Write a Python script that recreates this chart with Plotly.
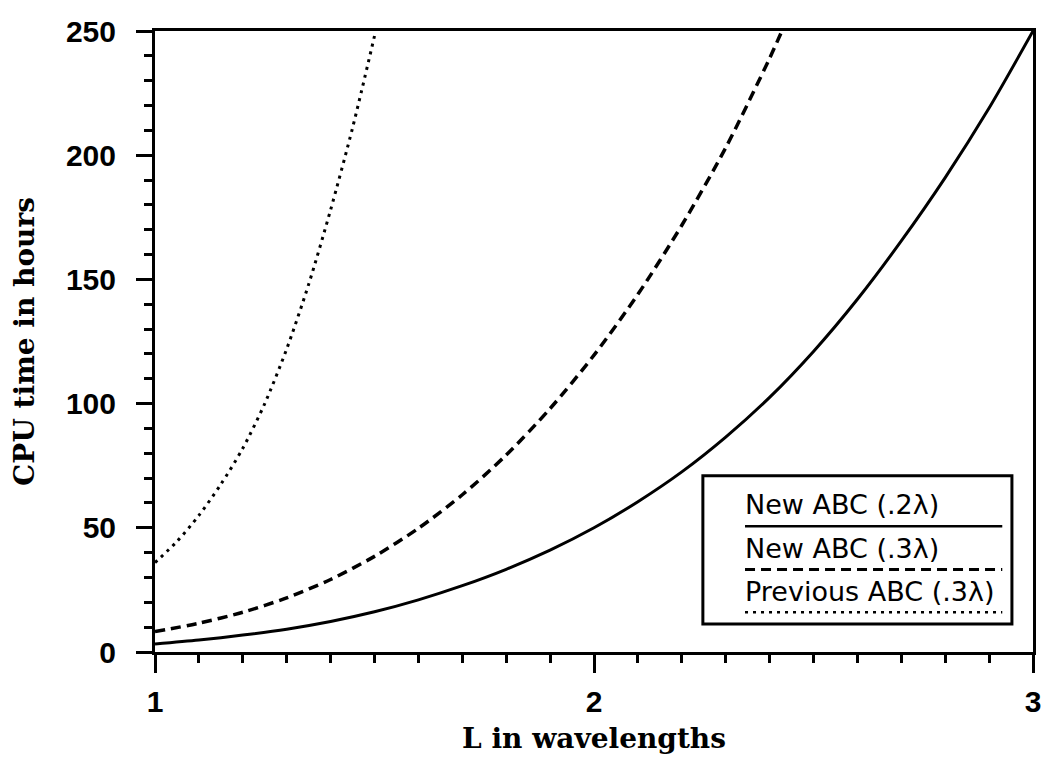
import plotly.graph_objects as go

# ---- data ----
L_new_02 = [1.0, 1.1, 1.2, 1.3, 1.4, 1.5, 1.6, 1.7, 1.8, 1.9, 2.0,
            2.1, 2.2, 2.3, 2.4, 2.5, 2.6, 2.7, 2.8, 2.9, 3.0]
cpu_new_02 = [3.2, 4.8, 6.8, 9.2, 12.3, 16.2, 21.0, 26.7, 33.3, 41.0, 50.0,
              60.5, 72.5, 86.5, 102.5, 121.0, 142.0, 165.5, 191.0, 219.0, 250.0]

L_new_03 = [1.0, 1.1, 1.2, 1.3, 1.4, 1.5, 1.6, 1.7, 1.8, 1.9, 2.0,
            2.1, 2.2, 2.3, 2.4, 2.428]
cpu_new_03 = [8.2, 11.6, 16.0, 21.8, 29.2, 38.5, 49.8, 63.3, 79.3, 98.0, 119.5,
              144.0, 171.8, 203.0, 239.0, 250.0]

L_prev_03 = [1.0, 1.05, 1.1, 1.15, 1.2, 1.25, 1.3, 1.35, 1.4, 1.45, 1.5]
cpu_prev_03 = [36.0, 44.5, 55.0, 67.5, 82.0, 100.0, 122.0, 148.0, 178.0, 211.0, 248.0]

legend_labels = ["New ABC (.2λ)", "New ABC (.3λ)", "Previous ABC (.3λ)"]
x_ticks = [1, 2, 3]
y_ticks = [0, 50, 100, 150, 200, 250]

# ---- figure ----
fig = go.Figure()
fig.add_trace(go.Scatter(x=L_new_02, y=cpu_new_02, mode="lines", name=legend_labels[0],
                         line=dict(color="black", width=3, shape="spline", smoothing=0.8),
                         showlegend=False))
fig.add_trace(go.Scatter(x=L_new_03, y=cpu_new_03, mode="lines", name=legend_labels[1],
                         line=dict(color="black", width=3.5, dash="10px,6px", shape="spline",
                                   smoothing=0.8),
                         showlegend=False))
fig.add_trace(go.Scatter(x=L_prev_03, y=cpu_prev_03, mode="lines", name=legend_labels[2],
                         line=dict(color="black", width=3, dash="3px,5px", shape="spline",
                                   smoothing=0.8),
                         showlegend=False))

tick_font = dict(family="Liberation Sans", size=30, color="black", weight="bold")
title_font = dict(family="DejaVu Serif", size=28, color="black", weight="bold")

fig.update_xaxes(
    range=[1, 3], tickvals=x_ticks, ticktext=[str(v) for v in x_ticks],
    ticks="outside", ticklen=18, tickwidth=3, tickcolor="black",
    minor=dict(dtick=0.1, ticks="outside", ticklen=8, tickwidth=2.5, tickcolor="black"),
    showline=True, linewidth=3, linecolor="black", mirror=True,
    showgrid=False, zeroline=False, tickfont=tick_font, ticklabelstandoff=3,
    title=dict(text="L in wavelengths", font=title_font, standoff=12),
)
fig.update_yaxes(
    range=[0, 250], tickvals=y_ticks,
    ticks="outside", ticklen=16, tickwidth=3, tickcolor="black",
    minor=dict(dtick=10, ticks="outside", ticklen=8, tickwidth=2.5, tickcolor="black"),
    showline=True, linewidth=3, linecolor="black", mirror=True,
    showgrid=False, zeroline=False, tickfont=tick_font, ticklabelstandoff=14,
    title=dict(text="CPU time in hours", font=title_font, standoff=24),
)

# ---- custom legend (text with line sample underneath) ----
box_x0, box_x1, box_y0, box_y1 = 0.624, 0.976, 0.045, 0.284
line_x0, line_x1 = 0.672, 0.965
sample_y = [0.2024, 0.1328, 0.064]
sample_dash = ["solid", "10px,6px", "3px,5px"]
sample_w = [2.5, 3, 2.5]
text_y = [0.2375, 0.167, 0.097]

fig.add_shape(type="rect", xref="paper", yref="paper",
              x0=box_x0, x1=box_x1, y0=box_y0, y1=box_y1,
              line=dict(color="black", width=3), fillcolor="white", layer="above")
for lbl, sy, dsh, w, ty in zip(legend_labels, sample_y, sample_dash, sample_w, text_y):
    fig.add_shape(type="line", xref="paper", yref="paper",
                  x0=line_x0, x1=line_x1, y0=sy, y1=sy,
                  line=dict(color="black", width=w, dash=dsh), layer="above")
    fig.add_annotation(xref="paper", yref="paper", x=line_x0 - 0.002, y=ty,
                       xanchor="left", yanchor="middle", showarrow=False,
                       text=lbl, font=dict(family="DejaVu Sans", size=27, color="black"))

# page body has an 8px default margin, so the figure is sized/offset to fit the window
fig.update_layout(
    width=1039, height=748,
    margin=dict(l=147, r=6, t=17, b=98, pad=0),
    plot_bgcolor="white", paper_bgcolor="white",
    showlegend=False,
)

fig.write_html("out.html")
